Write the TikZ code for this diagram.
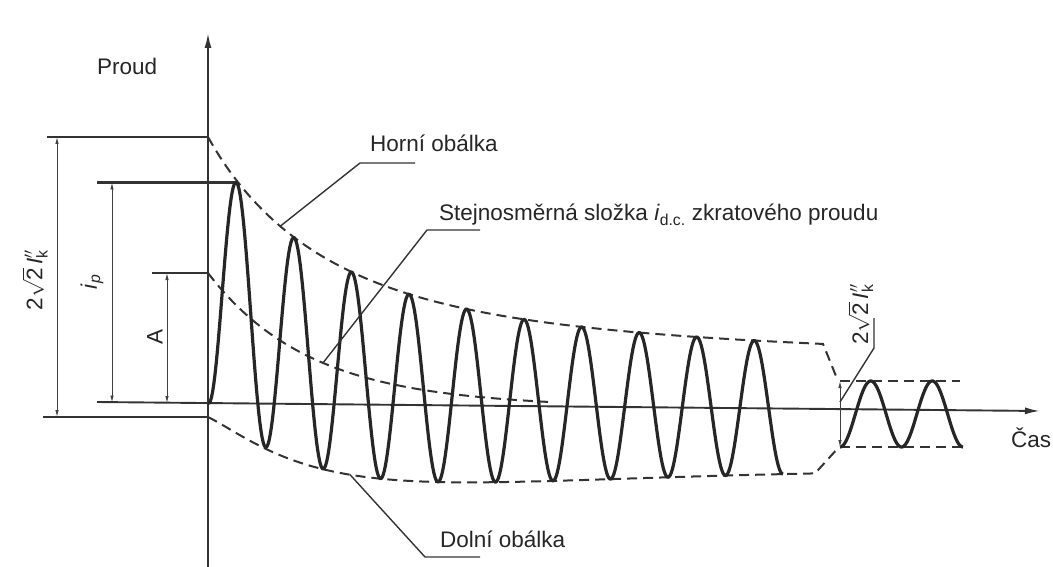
\documentclass[tikz,border=0pt]{standalone}
\usepackage{amsmath}
\usepackage{fontspec}
\setmainfont{Liberation Sans}
\usetikzlibrary{arrows.meta}

\begin{document}
\begin{tikzpicture}[x=1pt, y=-1pt,
		declare function={dcc(\t)=130*exp(-\t/100); acc(\t)=55+75*exp(-\t/300); tilt(\t)=403+0.00954*\t;},
		lbl/.style={font=\fontsize{22.5}{27}\selectfont, text=black!85, inner sep=0pt},
		axisline/.style={line width=1.9pt, draw=black!80, -{Latex[length=15pt, width=7pt]}},
		extline/.style={line width=2.2pt, draw=black!80},
		dimline/.style={line width=0.9pt, draw=black!75, {Latex[length=7pt, width=3.5pt]}-{Latex[length=7pt, width=3.5pt]}},
		envelope/.style={line width=2pt, draw=black!80, dash pattern=on 10pt off 6pt},
		wave/.style={line width=3.2pt, draw=black!85, line join=round},
		leader/.style={line width=1.4pt, draw=black!80}]
		\useasboundingbox (0,0) rectangle (1053,567);

		\coordinate (O) at (208,403);
		\coordinate (y_bot) at (208,567);
		\coordinate (y_tip) at (208,33);
		\coordinate (x_left) at (97,402);
		\coordinate (x_tip) at (1040,411);
		\draw[axisline] (y_bot) -- (y_tip);
		\draw[axisline] (x_left) -- (x_tip);
		\node[lbl, anchor=base west] (proud) at (97,75) {Proud};
		\node[lbl, anchor=base west] (cas) at (1011,447) {Čas};

		\coordinate (top_l) at (47,137);
		\coordinate (top_r) at (208,137);
		\coordinate (bot_l) at (43,417);
		\coordinate (bot_r) at (208,417);
		\coordinate (ip_l) at (97,182.5);
		\coordinate (ip_r) at (237,182.5);
		\coordinate (A_l) at (152,273);
		\coordinate (A_r) at (208,273);
		\draw[extline] (top_l) -- (top_r);
		\draw[extline] (bot_l) -- (bot_r);
		\draw[extline] (ip_l) -- (ip_r);
		\draw[extline] (A_l) -- (A_r);

		\draw[dimline] (57,137) coordinate (d1_t) -- (57,417) coordinate (d1_b);
		\draw[dimline] (112,182.5) coordinate (d2_t) -- (112,402.5) coordinate (d2_b);
		\draw[dimline] (167,273) coordinate (d3_t) -- (167,403) coordinate (d3_b);
		\node[lbl, rotate=90] (lbl_ik) at (35,280) {2$\sqrt{\text{2}}\,\textit{I}''_{\text{k}}$};
		\node[lbl, rotate=90] (lbl_ip) at (92,282) {\textit{i}\textsubscript{\textit{p}}};
		\node[lbl, rotate=90] (lbl_A) at (155,337) {A};

		\coordinate (env_up_end) at (838,381);
		\coordinate (env_lo_end) at (839,447);
		\draw[envelope] plot[domain=0:615, samples=160] ({\x+208},{tilt(\x)-dcc(\x)-acc(\x)-6*exp(-\x/25)}) -- (env_up_end);
		\draw[envelope] plot[domain=0:607, samples=160] ({\x+208},{tilt(\x)-dcc(\x)+acc(\x)+14*exp(-\x/25)}) -- (env_lo_end);
		\draw[envelope] plot[domain=0:340, samples=100] ({\x+208},{tilt(\x)-dcc(\x)});
		\draw[wave] plot[domain=0:575, samples=500] ({\x+208},{tilt(\x)-dcc(\x)+acc(\x)*cos(6.26087*\x)});

		\coordinate (ss_top_l) at (840,381);
		\coordinate (ss_top_r) at (960,381);
		\coordinate (ss_bot_l) at (840,447);
		\coordinate (ss_bot_r) at (965,447);
		\draw[envelope] (ss_top_l) -- (ss_top_r);
		\draw[envelope] (ss_bot_l) -- (ss_bot_r);
		\draw[wave] plot[domain=0:123, samples=120] ({\x+840},{414+33*cos(5.85366*\x)});
		\draw[dimline] (ss_top_l) -- (ss_bot_l);

		\node[lbl, rotate=90, anchor=base west] (lbl_ss) at (868,345) {2$\sqrt{\text{2}}\,\textit{I}''_{\text{k}}$};
		\coordinate (ss_u1) at (874,318);
		\coordinate (ss_u2) at (874,348);
		\coordinate (ss_end) at (840,402);
		\draw[leader] (ss_u1) -- (ss_u2) -- (ss_end);

		\node[lbl, anchor=base west] (horni) at (370,152) {Horní obálka};
		\coordinate (horni_u1) at (415,163);
		\coordinate (horni_u2) at (360,163);
		\coordinate (horni_end) at (280,{tilt(72)-dcc(72)-acc(72)});
		\draw[leader] (horni_u1) -- (horni_u2) -- (horni_end);

		\node[lbl, anchor=base west] (stejn) at (439,221) {Stejnosměrná složka \textit{i}\textsubscript{d.c.} zkratového proudu};
		\coordinate (stejn_u1) at (480,230);
		\coordinate (stejn_u2) at (427,230);
		\coordinate (stejn_end) at (323,{tilt(115)-dcc(115)});
		\draw[leader] (stejn_u1) -- (stejn_u2) -- (stejn_end);

		\node[lbl, anchor=base west] (dolni) at (440,547) {Dolní obálka};
		\coordinate (dolni_u1) at (480,557);
		\coordinate (dolni_u2) at (425,557);
		\coordinate (dolni_end) at (350,{tilt(142)-dcc(142)+acc(142)});
		\draw[leader] (dolni_u1) -- (dolni_u2) -- (dolni_end);
	\end{tikzpicture}
\end{document}
